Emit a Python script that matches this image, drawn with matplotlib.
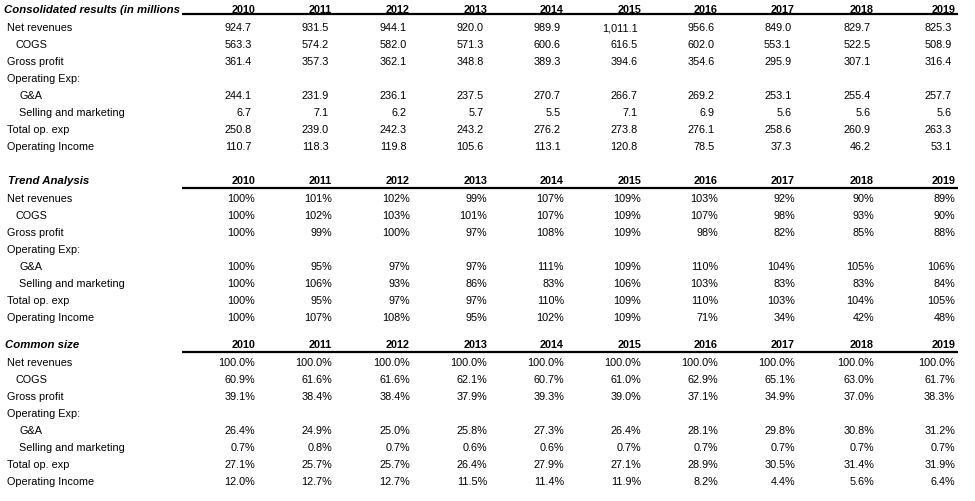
"""Income statement summary table: consolidated results, trend analysis, common size.

Outputs: out.png
"""

import matplotlib
matplotlib.use("Agg")
import matplotlib.pyplot as plt

YEARS = ["2010", "2011", "2012", "2013", "2014", "2015", "2016", "2017", "2018", "2019"]

ROW_LABELS = [
    "Net revenues",
    "COGS",
    "Gross profit",
    "Operating Exp:",
    "G&A",
    "Selling and marketing",
    "Total op. exp",
    "Operating Income",
]
ROW_INDENT = [0, 1, 0, 0, 2, 2, 0, 0]

# Consolidated results (in millions)
net_revenues = ["924.7", "931.5", "944.1", "920.0", "989.9", "1,011.1", "956.6", "849.0", "829.7", "825.3"]
cogs = ["563.3", "574.2", "582.0", "571.3", "600.6", "616.5", "602.0", "553.1", "522.5", "508.9"]
gross_profit = ["361.4", "357.3", "362.1", "348.8", "389.3", "394.6", "354.6", "295.9", "307.1", "316.4"]
ga = ["244.1", "231.9", "236.1", "237.5", "270.7", "266.7", "269.2", "253.1", "255.4", "257.7"]
selling = ["6.7", "7.1", "6.2", "5.7", "5.5", "7.1", "6.9", "5.6", "5.6", "5.6"]
total_opex = ["250.8", "239.0", "242.3", "243.2", "276.2", "273.8", "276.1", "258.6", "260.9", "263.3"]
op_income = ["110.7", "118.3", "119.8", "105.6", "113.1", "120.8", "78.5", "37.3", "46.2", "53.1"]

# Trend analysis (2010 = 100%)
trend_net_revenues = ["100%", "101%", "102%", "99%", "107%", "109%", "103%", "92%", "90%", "89%"]
trend_cogs = ["100%", "102%", "103%", "101%", "107%", "109%", "107%", "98%", "93%", "90%"]
trend_gross_profit = ["100%", "99%", "100%", "97%", "108%", "109%", "98%", "82%", "85%", "88%"]
trend_ga = ["100%", "95%", "97%", "97%", "111%", "109%", "110%", "104%", "105%", "106%"]
trend_selling = ["100%", "106%", "93%", "86%", "83%", "106%", "103%", "83%", "83%", "84%"]
trend_total_opex = ["100%", "95%", "97%", "97%", "110%", "109%", "110%", "103%", "104%", "105%"]
trend_op_income = ["100%", "107%", "108%", "95%", "102%", "109%", "71%", "34%", "42%", "48%"]

# Common size (% of net revenues)
cs_net_revenues = ["100.0%"] * 10
cs_cogs = ["60.9%", "61.6%", "61.6%", "62.1%", "60.7%", "61.0%", "62.9%", "65.1%", "63.0%", "61.7%"]
cs_gross_profit = ["39.1%", "38.4%", "38.4%", "37.9%", "39.3%", "39.0%", "37.1%", "34.9%", "37.0%", "38.3%"]
cs_ga = ["26.4%", "24.9%", "25.0%", "25.8%", "27.3%", "26.4%", "28.1%", "29.8%", "30.8%", "31.2%"]
cs_selling = ["0.7%", "0.8%", "0.7%", "0.6%", "0.6%", "0.7%", "0.7%", "0.7%", "0.7%", "0.7%"]
cs_total_opex = ["27.1%", "25.7%", "25.7%", "26.4%", "27.9%", "27.1%", "28.9%", "30.5%", "31.4%", "31.9%"]
cs_op_income = ["12.0%", "12.7%", "12.7%", "11.5%", "11.4%", "11.9%", "8.2%", "4.4%", "5.6%", "6.4%"]

SECTIONS = [
    ("Consolidated results (in millions",
     [net_revenues, cogs, gross_profit, None, ga, selling, total_opex, op_income]),
    ("Trend Analysis",
     [trend_net_revenues, trend_cogs, trend_gross_profit, None, trend_ga, trend_selling,
      trend_total_opex, trend_op_income]),
    ("Common size",
     [cs_net_revenues, cs_cogs, cs_gross_profit, None, cs_ga, cs_selling,
      cs_total_opex, cs_op_income]),
]

# layout in pixels (baselines)
COL_RIGHT = [255, 332, 410, 487, 564, 641, 718, 795, 874, 955]
HEADER_BL = [13.3, 184.2, 348.3]
RULE_Y = [14.3, 188.2, 352.3]
FIRST_ROW_BL = [31.0, 201.6, 365.7]
TITLE_X = [4, 8, 5]
ROW_H = 17.0
INDENT_X = [7, 16, 19]
FS = 7.8

plt.rcParams["font.family"] = ["Liberation Sans", "DejaVu Sans"]

fig = plt.figure(figsize=(9.75, 5.01), dpi=100)
ax = fig.add_axes([0, 0, 1, 1])
ax.set_xlim(0, 975)
ax.set_ylim(501, 0)
ax.axis("off")

for si, (title, rows) in enumerate(SECTIONS):
    hb = HEADER_BL[si]
    ax.text(TITLE_X[si], hb, title, fontsize=8.2, fontweight="bold", fontstyle="italic",
            ha="left", va="baseline")
    for xr, yr in zip(COL_RIGHT, YEARS):
        ax.text(xr, hb, yr, fontsize=FS, fontweight="bold", ha="right", va="baseline")
    ax.plot([182, 958], [RULE_Y[si], RULE_Y[si]], color="black", linewidth=1.6,
            solid_capstyle="butt")

    for ri, (label, vals) in enumerate(zip(ROW_LABELS, rows)):
        y = FIRST_ROW_BL[si] + ri * ROW_H
        ax.text(INDENT_X[ROW_INDENT[ri]], y, label, fontsize=FS, ha="left", va="baseline")
        if vals is None:
            continue
        for xr, v in zip(COL_RIGHT, vals):
            # plain numbers sit a few px left of the column edge (Excel padding)
            off = 0 if v.endswith("%") else 3.5
            ax.text(xr - off, y, v, fontsize=FS, ha="right", va="baseline")

fig.savefig("out.png", dpi=100)
plt.close(fig)
print("Saved: out.png")
